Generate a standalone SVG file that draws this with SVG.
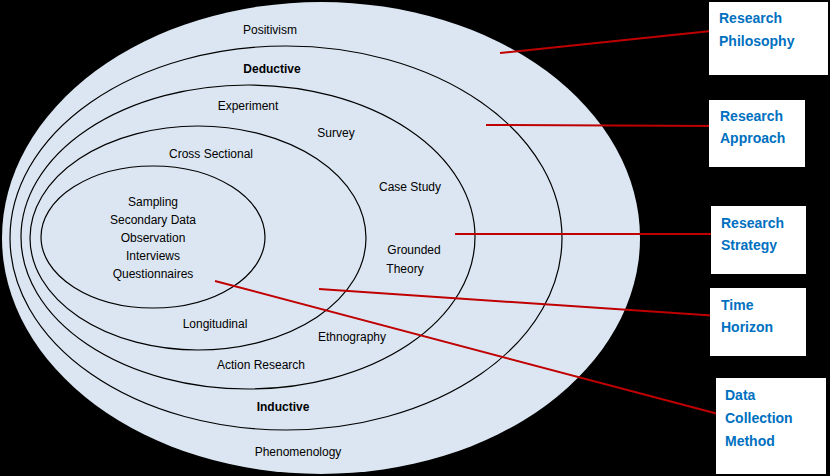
<svg xmlns="http://www.w3.org/2000/svg" width="830" height="476" viewBox="0 0 830 476">
<style>
.e{fill:none;stroke:#000;stroke-width:1.2}
.t{font-family:"Liberation Sans",Arial,sans-serif;font-size:12px;fill:#000;text-anchor:middle}
.b{font-weight:bold}
.box{fill:#fff}
.bt{font-family:"Liberation Sans",Arial,sans-serif;font-size:14px;font-weight:bold;fill:#0070C0}
.c{stroke:#C00000;stroke-width:2;fill:none}
</style>
<rect width="830" height="476" fill="#000"/>
<g id="philosophy-ellipse">
<ellipse cx="321" cy="238" rx="319" ry="236" fill="#dce6f2"/>
<text class="t" x="270" y="34" font-size="14">Positivism</text>
<text class="t" x="298" y="456" font-size="14">Phenomenology</text>
</g>
<g id="approach-ellipse">
<ellipse class="e" cx="286" cy="238" rx="276" ry="192"/>
<text class="t b" x="272" y="73">Deductive</text>
<text class="t b" x="283" y="411">Inductive</text>
</g>
<g id="strategy-ellipse">
<ellipse class="e" cx="248" cy="237" rx="227" ry="152"/>
<text class="t" x="248" y="110">Experiment</text>
<text class="t" x="336" y="137">Survey</text>
<text class="t" x="410" y="191">Case Study</text>
<text class="t" x="414" y="254">Grounded</text>
<text class="t" x="405" y="273">Theory</text>
<text class="t" x="352" y="341" font-size="11">Ethnography</text>
<text class="t" x="261" y="369">Action Research</text>
</g>
<g id="time-ellipse">
<ellipse class="e" cx="198" cy="238" rx="168" ry="112"/>
<text class="t" x="211" y="158">Cross Sectional</text>
<text class="t" x="215" y="328">Longitudinal</text>
</g>
<g id="data-ellipse">
<ellipse class="e" cx="153" cy="237" rx="112" ry="71"/>
<text class="t" x="153" y="206">Sampling</text>
<text class="t" x="153" y="224">Secondary Data</text>
<text class="t" x="153" y="242">Observation</text>
<text class="t" x="153" y="260">Interviews</text>
<text class="t" x="153" y="278">Questionnaires</text>
</g>
<g id="connectors">
<line class="c" x1="500" y1="53" x2="711" y2="31"/>
<line class="c" x1="486" y1="125" x2="719" y2="126"/>
<line class="c" x1="455" y1="234" x2="719" y2="234"/>
<line class="c" x1="319" y1="289" x2="719" y2="316"/>
<line class="c" x1="215" y1="281" x2="722" y2="415"/>
</g>
<g id="box-philosophy"><rect class="box" x="709" y="2" width="119" height="73"/><text class="bt" x="719" y="23">Research</text><text class="bt" x="719" y="46">Philosophy</text></g>
<g id="box-approach"><rect class="box" x="709" y="100" width="96" height="67"/><text class="bt" x="720" y="121">Research</text><text class="bt" x="720" y="143">Approach</text></g>
<g id="box-strategy"><rect class="box" x="711" y="206" width="95" height="68"/><text class="bt" x="721" y="228">Research</text><text class="bt" x="721" y="250">Strategy</text></g>
<g id="box-time"><rect class="box" x="710" y="288" width="96" height="68"/><text class="bt" x="721" y="310">Time</text><text class="bt" x="721" y="332">Horizon</text></g>
<g id="box-data"><rect class="box" x="716" y="378" width="110" height="96"/><text class="bt" x="725" y="400">Data</text><text class="bt" x="725" y="423">Collection</text><text class="bt" x="725" y="446">Method</text></g>
</svg>
